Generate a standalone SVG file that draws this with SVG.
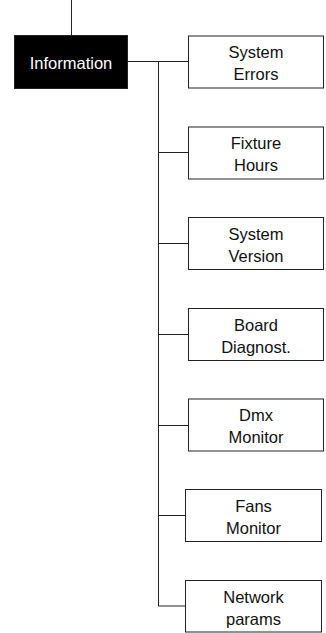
<svg xmlns="http://www.w3.org/2000/svg" width="326" height="633" viewBox="0 0 326 633">
  <style>
    .box { fill: #ffffff; stroke: #222222; stroke-width: 1; }
    .root { fill: #000000; stroke: #222222; stroke-width: 1; }
    .lbl { font-family: "Liberation Sans", Arial, Helvetica, sans-serif; font-size: 16.5px; fill: #111111; text-anchor: middle; }
    .rootlbl { font-family: "Liberation Sans", Arial, Helvetica, sans-serif; font-size: 16.5px; fill: #ffffff; text-anchor: middle; }
    .wire { fill: none; stroke: #222222; stroke-width: 1; }
  </style>
  <rect width="326" height="633" fill="#ffffff"/>

  <!-- connectors -->
  <g id="connectors">
    <path class="wire" d="M71.5 0 V36"/>
    <path class="wire" d="M128 61.5 H188.5"/>
    <path class="wire" d="M158.5 61.5 V606"/>
    <path class="wire" d="M158.5 152.5 H188.5"/>
    <path class="wire" d="M158.5 243.5 H188.5"/>
    <path class="wire" d="M158.5 334.5 H188.5"/>
    <path class="wire" d="M158.5 425.5 H188.5"/>
    <path class="wire" d="M158.5 515.5 H185.5"/>
    <path class="wire" d="M158.5 606 H185.5"/>
  </g>

  <!-- menu root -->
  <g id="information">
    <rect class="root" x="14.5" y="35.5" width="113" height="53"/>
    <text class="rootlbl" x="71" y="69">Information</text>
  </g>

  <!-- submenu entries -->
  <g id="system-errors">
    <rect class="box" x="188.5" y="36" width="135" height="52"/>
    <text class="lbl" x="256" y="58">System</text>
    <text class="lbl" x="256" y="80">Errors</text>
  </g>
  <g id="fixture-hours">
    <rect class="box" x="188.5" y="127" width="135" height="52"/>
    <text class="lbl" x="256" y="149">Fixture</text>
    <text class="lbl" x="256" y="171">Hours</text>
  </g>
  <g id="system-version">
    <rect class="box" x="188.5" y="217.5" width="135" height="52"/>
    <text class="lbl" x="256" y="239.5">System</text>
    <text class="lbl" x="256" y="261.5">Version</text>
  </g>
  <g id="board-diagnost">
    <rect class="box" x="188.5" y="308.5" width="135" height="52"/>
    <text class="lbl" x="256" y="330.5">Board</text>
    <text class="lbl" x="256" y="352.5">Diagnost.</text>
  </g>
  <g id="dmx-monitor">
    <rect class="box" x="188.5" y="399" width="135" height="52"/>
    <text class="lbl" x="256" y="421">Dmx</text>
    <text class="lbl" x="256" y="443">Monitor</text>
  </g>
  <g id="fans-monitor">
    <rect class="box" x="185.5" y="489.5" width="136" height="52"/>
    <text class="lbl" x="253.5" y="511.5">Fans</text>
    <text class="lbl" x="253.5" y="533.5">Monitor</text>
  </g>
  <g id="network-params">
    <rect class="box" x="185.5" y="580.5" width="136" height="51.5"/>
    <text class="lbl" x="253.5" y="602.5">Network</text>
    <text class="lbl" x="253.5" y="624.5">params</text>
  </g>
</svg>
